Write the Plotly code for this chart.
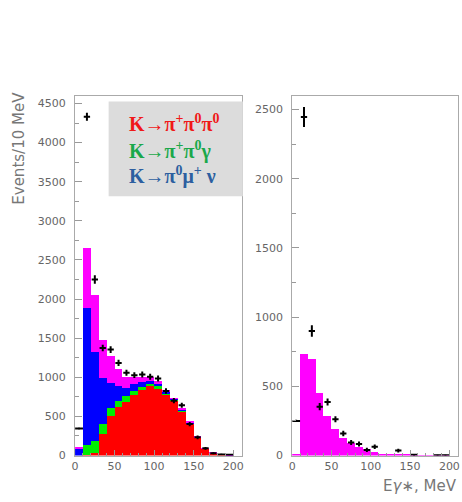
import plotly.graph_objects as go
from plotly.subplots import make_subplots

# bin centres (MeV), 10 MeV bins
centers = [5, 15, 25, 35, 45, 55, 65, 75, 85, 95, 105, 115, 125, 135, 145, 155, 165, 175, 185, 195]

# left panel: stacked Monte Carlo components (events / 10 MeV)
red_k3pi = [0, 15, 34, 283, 508, 626, 685, 778, 846, 888, 859, 783, 706, 571, 415, 233, 93, 34, 13, 8]
green_kpp_gamma = [0, 125, 156, 119, 105, 80, 85, 55, 34, 26, 29, 17, 9, 9, 5, 3, 2, 1, 0, 0]
blue_kmu3 = [85, 1755, 1142, 600, 317, 191, 97, 85, 63, 38, 34, 25, 13, 15, 8, 4, 3, 1, 1, 1]
magenta_left = [33, 757, 728, 478, 347, 211, 148, 97, 72, 51, 30, 21, 12, 18, 8, 5, 3, 2, 1, 1]

# left panel: data points
data_left = [347, 4330, 2250, 1375, 1354, 1184, 1058, 1028, 1036, 1007, 986, 825, 702, 643, 402, 233, 93, 30, 14, 10]
err_left = [10, 50, 55, 42, 42, 40, 38, 38, 38, 38, 38, 36, 34, 32, 28, 24, 18, 12, 8, 6]
xerr_left = [5, 4, 4, 4, 4, 4, 4, 4, 4, 4, 4, 4, 4, 4, 4, 4, 4, 4, 5, 5]

# right panel: magenta MC and data
magenta_right = [12, 735, 699, 453, 291, 191, 131, 95, 64, 48, 31, 17, 12, 10, 7, 5, 3, 3, 3, 3]
data_right = [250, 2446, 900, 353, 387, 262, 160, 95, 84, 41, 64, None, None, 36, None, 5, None, None, 2, 2]
err_right = [8, 72, 42, 26, 26, 22, 20, 18, 18, 16, 16, 0, 0, 14, 0, 6, 0, 0, 3, 3]
xerr_right = [5, 4, 4, 4, 4, 4, 4, 4, 4, 4, 4, 4, 4, 4, 4, 4, 4, 4, 5, 5]

legend_lines = ["<b>K→π<sup>+</sup>π<sup>0</sup>π<sup>0</sup></b>",
                "<b>K→π<sup>+</sup>π<sup>0</sup>γ</b>",
                "<b>K→π<sup>0</sup>μ<sup>+</sup> ν</b>"]
legend_colors = ["#f01818", "#1aa84a", "#2c5fa0"]

W, H = 462, 502

fig = make_subplots(rows=1, cols=2)

for vals, col in [(red_k3pi, "#ff0000"), (green_kpp_gamma, "#00ee00"),
                  (blue_kmu3, "#0000ff"), (magenta_left, "#ff00ff")]:
    fig.add_trace(go.Bar(x=centers, y=vals, width=10, marker=dict(color=col, line=dict(width=0)),
                         showlegend=False), row=1, col=1)

fig.add_trace(go.Bar(x=centers, y=magenta_right, width=10,
                     marker=dict(color="#ff00ff", line=dict(width=0)), showlegend=False), row=1, col=2)

fig.add_trace(go.Scatter(x=centers, y=data_left, mode="markers",
                         marker=dict(size=1, color="rgba(0,0,0,0)"),
                         error_y=dict(type="data", array=err_left, thickness=2, width=0, color="black"),
                         error_x=dict(type="data", array=xerr_left, thickness=2, width=0, color="black"),
                         showlegend=False), row=1, col=1)
fig.add_trace(go.Scatter(x=centers, y=data_right, mode="markers",
                         marker=dict(size=1, color="rgba(0,0,0,0)"),
                         error_y=dict(type="data", array=err_right, thickness=2, width=0, color="black"),
                         error_x=dict(type="data", array=xerr_right, thickness=2, width=0, color="black"),
                         showlegend=False), row=1, col=2)

tickfont = dict(family="DejaVu Sans", size=11, color="#666666")
common_x = dict(range=[0, 211], tickvals=[0, 50, 100, 150, 200], ticks="inside", ticklen=6,
                tickcolor="#999999", minor=dict(ticks="inside", ticklen=3, dtick=10, tickcolor="#999999"),
                showline=True, linecolor="#aaaaaa", linewidth=1, mirror=True, showgrid=False,
                zeroline=False, tickfont=tickfont)
fig.update_xaxes(**common_x, domain=[72 / W, 241 / W], row=1, col=1)
fig.update_xaxes(**common_x, domain=[292 / W, 460 / W], row=1, col=2)

common_y = dict(ticks="inside", ticklen=7, tickcolor="#999999", showline=True, linecolor="#aaaaaa",
                linewidth=1, mirror=True, showgrid=False, zeroline=False, tickfont=tickfont,
                ticklabelstandoff=6, domain=[1 - 462 / H, 1 - 97 / H])
fig.update_yaxes(**common_y, range=[0, 4600], dtick=500,
                 minor=dict(ticks="inside", ticklen=4, dtick=250, tickcolor="#999999"), row=1, col=1)
fig.update_yaxes(**common_y, range=[0, 2600], dtick=500,
                 minor=dict(ticks="inside", ticklen=4, dtick=250, tickcolor="#999999"), row=1, col=2)

# legend box
fig.add_shape(type="rect", xref="paper", yref="paper", x0=106 / W, x1=242 / W,
              y0=1 - 199 / H, y1=1 - 103 / H, fillcolor="#dcdcdc", line=dict(width=0), layer="above")

for i, (txt, col) in enumerate(zip(legend_lines, legend_colors)):
    yc = [125, 153, 178][i]
    fig.add_annotation(text=txt, xref="paper", yref="paper", x=125 / W, y=1 - yc / H,
                       xanchor="left", yanchor="middle", showarrow=False,
                       font=dict(family="Liberation Serif", size=20, color=col))

fig.add_annotation(text="Events/10 MeV", xref="paper", yref="paper", x=15 / W, y=1 - 150 / H,
                   textangle=-90, showarrow=False, xanchor="center", yanchor="middle",
                   font=dict(family="DejaVu Sans", size=15, color="#777777"))
fig.add_annotation(text="E<i>γ</i>∗, MeV", xref="paper", yref="paper", x=461 / W, y=1 - 493 / H,
                   showarrow=False, xanchor="right", yanchor="middle",
                   font=dict(family="DejaVu Sans", size=15, color="#777777"))

fig.update_layout(width=W, height=H, margin=dict(l=0, r=0, t=0, b=0), barmode="stack",
                  bargap=0, plot_bgcolor="white", paper_bgcolor="white", showlegend=False)

fig.write_html("out.html")
